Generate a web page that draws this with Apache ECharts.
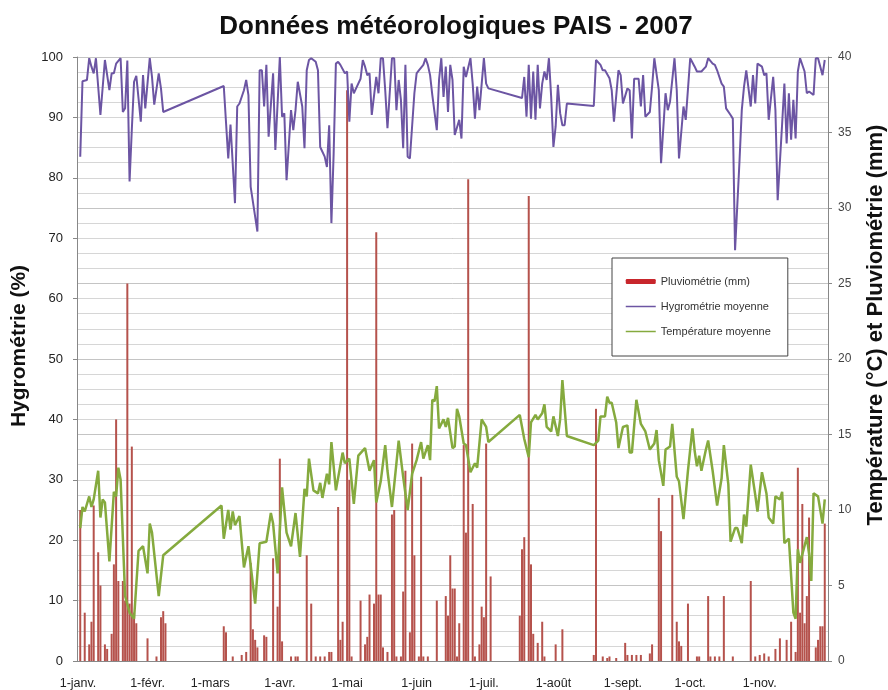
<!DOCTYPE html>
<html>
<head>
<meta charset="utf-8">
<script src="https://cdn.jsdelivr.net/npm/echarts@6/dist/echarts.min.js"></script>
<style>
html, body { margin: 0; padding: 0; background: #fff; }
#chart { width: 888px; height: 690px; }
</style>
</head>
<body>
<div id="chart"></div>
<script>
// Étiquettes de l'axe des dates (1er de chaque mois)
const mois = ['1-janv.', '1-févr.', '1-mars', '1-avr.', '1-mai', '1-juin', '1-juil.', '1-août', '1-sept.', '1-oct.', '1-nov.'];

// [jour de l'année (0 = 1er janv.), valeur]
const pluviometrie = [
    [1, 10.0], [3, 3.2], [5, 1.1], [6, 2.6], [7, 10.3], [9, 7.2], [10, 5.0], [12, 1.1], [13, 0.8], [15, 1.8],
    [16, 6.4], [17, 16.0], [18, 5.3], [20, 5.3], [21, 4.0], [22, 25.0], [23, 3.8], [24, 14.2], [25, 3.2], [26, 2.5],
    [31, 1.5], [35, 0.3], [37, 2.9], [38, 3.3], [39, 2.5],
    [65, 2.3], [66, 1.9], [69, 0.3], [73, 0.4], [75, 0.6], [77, 6.5], [78, 2.1], [79, 1.4], [80, 0.9], [83, 1.7],
    [84, 1.6], [87, 6.8], [89, 3.6], [90, 13.4], [91, 1.3], [95, 0.3], [97, 0.3], [98, 0.3], [102, 7.0], [104, 3.8],
    [106, 0.3], [108, 0.3], [110, 0.3], [112, 0.6], [113, 0.6], [116, 10.2], [117, 1.4], [118, 2.6], [120, 37.8], [121, 12.0],
    [122, 0.3], [126, 4.0], [128, 1.1], [129, 1.6], [130, 4.4], [132, 3.8], [133, 28.4], [134, 4.4], [135, 4.4], [136, 0.9],
    [138, 0.6], [140, 9.7], [141, 10.0], [142, 0.3], [144, 0.3], [145, 4.6], [146, 12.6], [148, 1.9], [149, 14.4], [150, 7.0],
    [152, 0.3], [153, 12.2], [154, 0.3], [156, 0.3], [160, 4.0], [164, 4.3], [165, 3.0], [166, 7.0], [167, 4.8], [168, 4.8],
    [169, 0.3], [170, 2.5], [172, 14.3], [173, 8.5], [174, 31.9], [176, 10.4], [177, 0.3], [179, 1.1], [180, 3.6], [181, 2.9],
    [182, 14.4], [184, 5.6],
    [197, 3.0], [198, 7.4], [199, 8.2], [201, 30.8], [202, 6.4], [203, 1.8], [205, 1.2], [207, 2.6], [208, 0.3], [213, 1.1], [216, 2.1],
    [230, 0.4], [231, 16.7], [234, 0.3], [236, 0.2], [237, 0.3], [240, 0.2], [244, 1.2], [245, 0.4], [247, 0.4], [249, 0.4],
    [251, 0.4], [255, 0.5], [256, 1.1], [259, 10.8], [260, 8.6], [265, 11.0], [267, 2.6], [268, 1.3], [269, 1.0], [272, 3.8],
    [276, 0.3], [277, 0.3], [281, 4.3], [282, 0.3], [284, 0.3], [286, 0.3], [288, 4.3], [292, 0.3], [300, 5.3], [302, 0.3],
    [304, 0.4], [306, 0.5], [308, 0.3], [311, 0.8], [313, 1.5], [316, 1.4], [318, 2.6], [320, 0.6], [321, 12.8], [322, 3.2],
    [323, 10.4], [324, 2.5], [325, 4.3], [326, 9.5], [329, 0.9], [330, 1.4], [331, 2.3], [332, 2.3], [333, 9.1]
];

const hygrometrie = [
    [1, 83.5], [2, 96.0], [4, 96.2], [5, 99.8], [6, 98.4], [7, 97.3], [8, 99.8], [10, 90.4], [12, 99.5], [14, 94.5],
    [15, 97.3], [16, 97.3], [17, 98.9], [19, 99.8], [20, 90.9], [21, 91.5], [22, 99.4], [23, 79.4], [24, 88.0], [25, 95.9],
    [26, 96.9], [28, 89.3], [29, 97.0], [30, 91.5], [32, 99.8], [33, 96.7], [34, 92.1], [36, 97.3], [37, 94.8], [38, 90.9],
    [65, 95.2], [67, 83.2], [68, 88.8], [70, 75.8], [71, 91.8], [72, 92.3], [74, 94.5], [75, 96.2], [76, 93.7], [77, 78.5],
    [80, 71.1], [81, 97.8], [82, 97.8], [83, 91.8], [84, 98.7], [85, 86.8], [87, 97.3], [88, 84.6], [90, 100.0], [91, 90.1],
    [92, 90.7], [93, 79.6], [95, 91.2], [96, 87.9], [97, 91.2], [98, 95.9], [100, 91.8], [101, 84.9], [102, 97.8], [103, 99.5],
    [104, 99.8], [106, 99.2], [107, 97.8], [108, 85.1], [110, 83.5], [111, 81.8], [112, 88.7], [113, 72.5], [114, 84.0], [115, 98.9],
    [116, 99.2], [117, 98.7], [119, 97.3], [120, 97.6], [121, 89.3], [122, 95.6], [123, 94.0], [124, 94.8], [126, 96.4], [127, 99.5],
    [128, 98.4], [129, 97.0], [130, 97.3], [131, 90.4], [133, 96.7], [134, 94.0], [135, 99.8], [136, 99.8], [137, 94.5], [138, 88.2],
    [140, 99.8], [141, 99.8], [142, 91.2], [143, 96.2], [144, 92.9], [145, 84.9], [146, 98.7], [147, 83.5], [148, 83.2], [150, 94.0],
    [151, 97.3], [152, 97.8], [154, 98.7], [155, 99.8], [156, 98.7], [157, 97.0], [158, 93.7], [160, 87.9], [161, 96.2], [162, 99.8],
    [163, 93.4], [164, 98.4], [165, 90.9], [166, 98.7], [167, 96.2], [168, 87.1], [170, 89.6], [171, 86.5], [172, 98.4], [173, 96.7],
    [175, 99.8], [176, 95.6], [177, 89.8], [178, 95.1], [179, 91.2], [181, 99.8], [182, 95.6], [183, 94.8],
    [198, 93.2], [199, 96.7], [200, 90.1], [201, 98.7], [202, 89.8], [203, 97.6], [204, 89.6], [205, 98.7], [206, 91.5], [207, 95.6],
    [208, 97.6], [209, 96.2], [210, 99.8], [211, 93.4], [212, 85.1], [213, 88.5], [214, 95.4], [215, 90.7], [216, 88.7], [217, 88.7], [218, 92.3],
    [230, 91.9], [231, 99.5], [233, 98.7], [234, 97.8], [235, 97.8], [237, 96.5], [238, 94.5], [239, 89.3], [241, 97.8], [242, 97.0],
    [243, 92.3], [245, 94.8], [246, 94.5], [247, 86.5], [248, 96.4], [250, 96.4], [251, 91.8], [252, 97.0], [253, 90.1], [255, 90.9],
    [256, 95.1], [257, 99.8], [259, 94.5], [260, 82.4], [262, 94.0], [263, 91.2], [264, 92.6], [266, 99.8], [267, 94.5], [268, 83.2],
    [270, 91.8], [271, 89.6], [273, 99.8], [275, 98.4], [276, 97.6], [278, 97.6], [280, 98.4], [281, 99.8], [283, 98.9], [284, 98.7],
    [285, 97.8], [287, 95.6], [288, 95.1], [289, 91.5], [291, 90.4], [292, 89.8], [293, 68.0], [295, 82.9], [296, 91.2], [297, 95.1],
    [298, 97.8], [300, 91.8], [301, 97.0], [302, 92.3], [303, 98.9], [305, 98.4], [306, 97.0], [307, 97.3], [308, 89.6], [310, 96.7],
    [311, 91.2], [312, 76.3], [314, 89.0], [315, 95.6], [316, 85.7], [317, 94.0], [318, 86.3], [319, 92.9], [320, 86.5], [321, 97.6],
    [322, 99.8], [324, 97.6], [325, 94.0], [326, 94.3], [328, 93.7], [329, 99.8], [330, 99.8], [332, 97.0], [333, 99.5]
];

const temperature = [
    [1, 8.8], [2, 10.2], [3, 9.9], [5, 10.9], [6, 10.2], [7, 10.7], [9, 12.6], [10, 9.5], [11, 10.7], [12, 10.5],
    [14, 6.6], [16, 11.2], [17, 10.9], [18, 12.8], [19, 12.0], [21, 4.3], [23, 3.2], [25, 2.8], [27, 7.3], [29, 7.6],
    [31, 5.8], [32, 9.1], [33, 8.5], [36, 4.3], [38, 7.0],
    [64, 10.3], [65, 8.1], [67, 10.0], [68, 8.7], [69, 9.9], [70, 9.0], [72, 9.6], [74, 6.2], [76, 7.6], [79, 3.8],
    [81, 7.8], [84, 7.9], [86, 9.8], [87, 9.1], [89, 5.8], [91, 11.5], [93, 8.5], [95, 7.6], [97, 9.8], [99, 6.9],
    [101, 11.4], [102, 10.9], [103, 13.4], [105, 11.3], [107, 11.1], [108, 11.8], [109, 10.8], [111, 12.4], [112, 11.7], [113, 14.5],
    [115, 11.3], [118, 13.8], [119, 13.1], [121, 13.4], [123, 10.4], [125, 13.6], [128, 14.1], [130, 12.6], [132, 13.3], [133, 10.5],
    [135, 11.9], [137, 14.3], [138, 12.6], [140, 10.2], [142, 13.1], [143, 14.6], [145, 12.2], [147, 10.0], [149, 12.4], [151, 13.3],
    [153, 14.5], [154, 13.4], [156, 14.3], [157, 13.3], [158, 17.3], [159, 17.2], [160, 18.2], [161, 15.4], [163, 16.0], [164, 15.5],
    [165, 16.1], [167, 14.1], [168, 14.2], [169, 16.7], [170, 16.2], [172, 14.4], [173, 14.3], [175, 12.5], [177, 13.1], [178, 12.8],
    [180, 16.0], [182, 15.5], [183, 14.5],
    [197, 16.3], [199, 14.7], [201, 13.5], [202, 15.8], [204, 16.3], [205, 16.0], [207, 16.4], [208, 17.0], [209, 15.5], [211, 15.2],
    [212, 16.2], [214, 14.9], [215, 16.0], [216, 18.6], [218, 14.9],
    [230, 14.3], [232, 14.6], [233, 16.2], [235, 16.2], [236, 17.5], [237, 17.1], [238, 17.1], [240, 15.8], [241, 14.1], [243, 15.5],
    [245, 15.6], [246, 13.8], [247, 13.8], [249, 17.3], [251, 15.7], [253, 15.2], [255, 14.0], [257, 14.4], [258, 15.3], [259, 13.3],
    [261, 11.6], [262, 14.0], [264, 14.2], [265, 15.7], [267, 12.2], [268, 11.9], [270, 9.4], [272, 12.6], [274, 15.4], [275, 13.9],
    [276, 12.9], [277, 13.6], [278, 12.6], [280, 14.0], [281, 14.6], [283, 12.6], [285, 10.3], [287, 12.1], [288, 14.3], [290, 11.7],
    [291, 7.9], [293, 8.8], [294, 8.8], [296, 7.8], [297, 9.7], [298, 8.9], [300, 13.0], [302, 11.0], [303, 9.9], [305, 12.5],
    [307, 11.1], [308, 9.5], [310, 9.1], [311, 10.9], [313, 10.7], [314, 11.2], [315, 7.8], [317, 8.1], [319, 3.2], [320, 2.8],
    [321, 7.4], [322, 6.5], [325, 8.2], [326, 7.1], [327, 5.3], [328, 11.1], [330, 10.9], [332, 9.1], [333, 10.7]
];

const police = '"Liberation Sans", Arial, sans-serif';
const JOUR = 24 * 3600 * 1000;
const couleurHygro = '#6c55a3';
const couleurTemp = '#85aa3e';

function jourVersDate(j) {
    return new Date(2007, 0, 1 + j).getTime();
}
const versSerie = arr => arr.map(([j, v]) => [jourVersDate(j), v]);

const myChart = echarts.init(document.getElementById('chart'));

const option = {
    animation: false,
    backgroundColor: '#fff',
    title: {
        text: 'Données météorologiques PAIS - 2007',
        left: 451,
        textAlign: 'center',
        top: 9,
        textStyle: { fontFamily: police, fontSize: 26, fontWeight: 'bold', color: '#111' }
    },
    grid: { left: 77, right: 60, top: 57, bottom: 29, outerBoundsMode: 'none' },
    legend: {
        orient: 'vertical',
        left: 612,
        top: 258,
        padding: [18, 17, 19, 13],
        itemGap: 14,
        itemWidth: 30,
        itemHeight: 5,
        backgroundColor: '#fff',
        borderColor: '#444',
        borderWidth: 1,
        borderRadius: 0,
        textStyle: { fontFamily: police, fontSize: 11, color: '#333' },
        data: [
            { name: 'Pluviométrie (mm)', itemStyle: { color: '#c8262c' } },
            { name: 'Hygrométrie moyenne', itemStyle: { opacity: 0 }, lineStyle: { color: couleurHygro, width: 1.5 } },
            { name: 'Température moyenne', itemStyle: { opacity: 0 }, lineStyle: { color: couleurTemp, width: 1.5 } }
        ]
    },
    xAxis: {
        type: 'time',
        min: jourVersDate(0),
        max: jourVersDate(334),
        splitNumber: 11,
        minInterval: 28 * JOUR,
        maxInterval: 31 * JOUR,
        axisLine: { lineStyle: { color: '#888' } },
        axisTick: { show: false },
        splitLine: { show: false },
        axisLabel: {
            fontFamily: police,
            fontSize: 12.5,
            color: '#222',
            margin: 16,
            hideOverlap: false,
            formatter: (v) => {
                const d = new Date(v);
                return d.getDate() === 1 && d.getMonth() < 11 ? mois[d.getMonth()] : '';
            }
        }
    },
    yAxis: [
        {
            type: 'value',
            min: 0,
            max: 100,
            interval: 10,
            name: 'Hygrométrie (%)',
            nameLocation: 'middle',
            nameGap: 47,
            nameTextStyle: { fontFamily: police, fontSize: 21, fontWeight: 'bold', color: '#111', padding: [0, 0, 0, 26] },
            axisLine: { show: true, lineStyle: { color: '#888' } },
            axisTick: { show: true, length: 4, lineStyle: { color: '#888' } },
            axisLabel: { fontFamily: police, fontSize: 13, color: '#222', margin: 14 },
            splitLine: { lineStyle: { color: '#9a9a9a' } }
        },
        {
            type: 'value',
            min: 0,
            max: 40,
            interval: 5,
            position: 'right',
            name: 'Température (°C) et Pluviométrie (mm)',
            nameLocation: 'middle',
            nameGap: 37,
            nameRotate: 90,
            nameTextStyle: { fontFamily: police, fontSize: 22, fontWeight: 'bold', color: '#111', padding: [0, 0, 0, 68] },
            axisLine: { show: true, lineStyle: { color: '#888' } },
            axisTick: { show: true, length: 4, lineStyle: { color: '#888' } },
            axisLabel: { fontFamily: police, fontSize: 12, color: '#444', margin: 10 },
            splitLine: { show: true, lineStyle: { color: '#c4c4c4' } },
            minorTick: { show: false, splitNumber: 5 },
            minorSplitLine: { show: true, lineStyle: { color: '#d6d6d6' } }
        }
    ],
    series: [
        {
            name: 'Pluviométrie (mm)',
            type: 'bar',
            yAxisIndex: 1,
            barWidth: 2,
            itemStyle: { color: '#b5524c' },
            data: versSerie(pluviometrie)
        },
        {
            name: 'Hygrométrie moyenne',
            type: 'line',
            yAxisIndex: 0,
            symbol: 'none',
            itemStyle: { color: couleurHygro },
            lineStyle: { color: couleurHygro, width: 2 },
            data: versSerie(hygrometrie)
        },
        {
            name: 'Température moyenne',
            type: 'line',
            yAxisIndex: 1,
            symbol: 'none',
            itemStyle: { color: couleurTemp },
            lineStyle: { color: couleurTemp, width: 2.5 },
            data: versSerie(temperature)
        }
    ]
};

myChart.setOption(option);
</script>
</body>
</html>
